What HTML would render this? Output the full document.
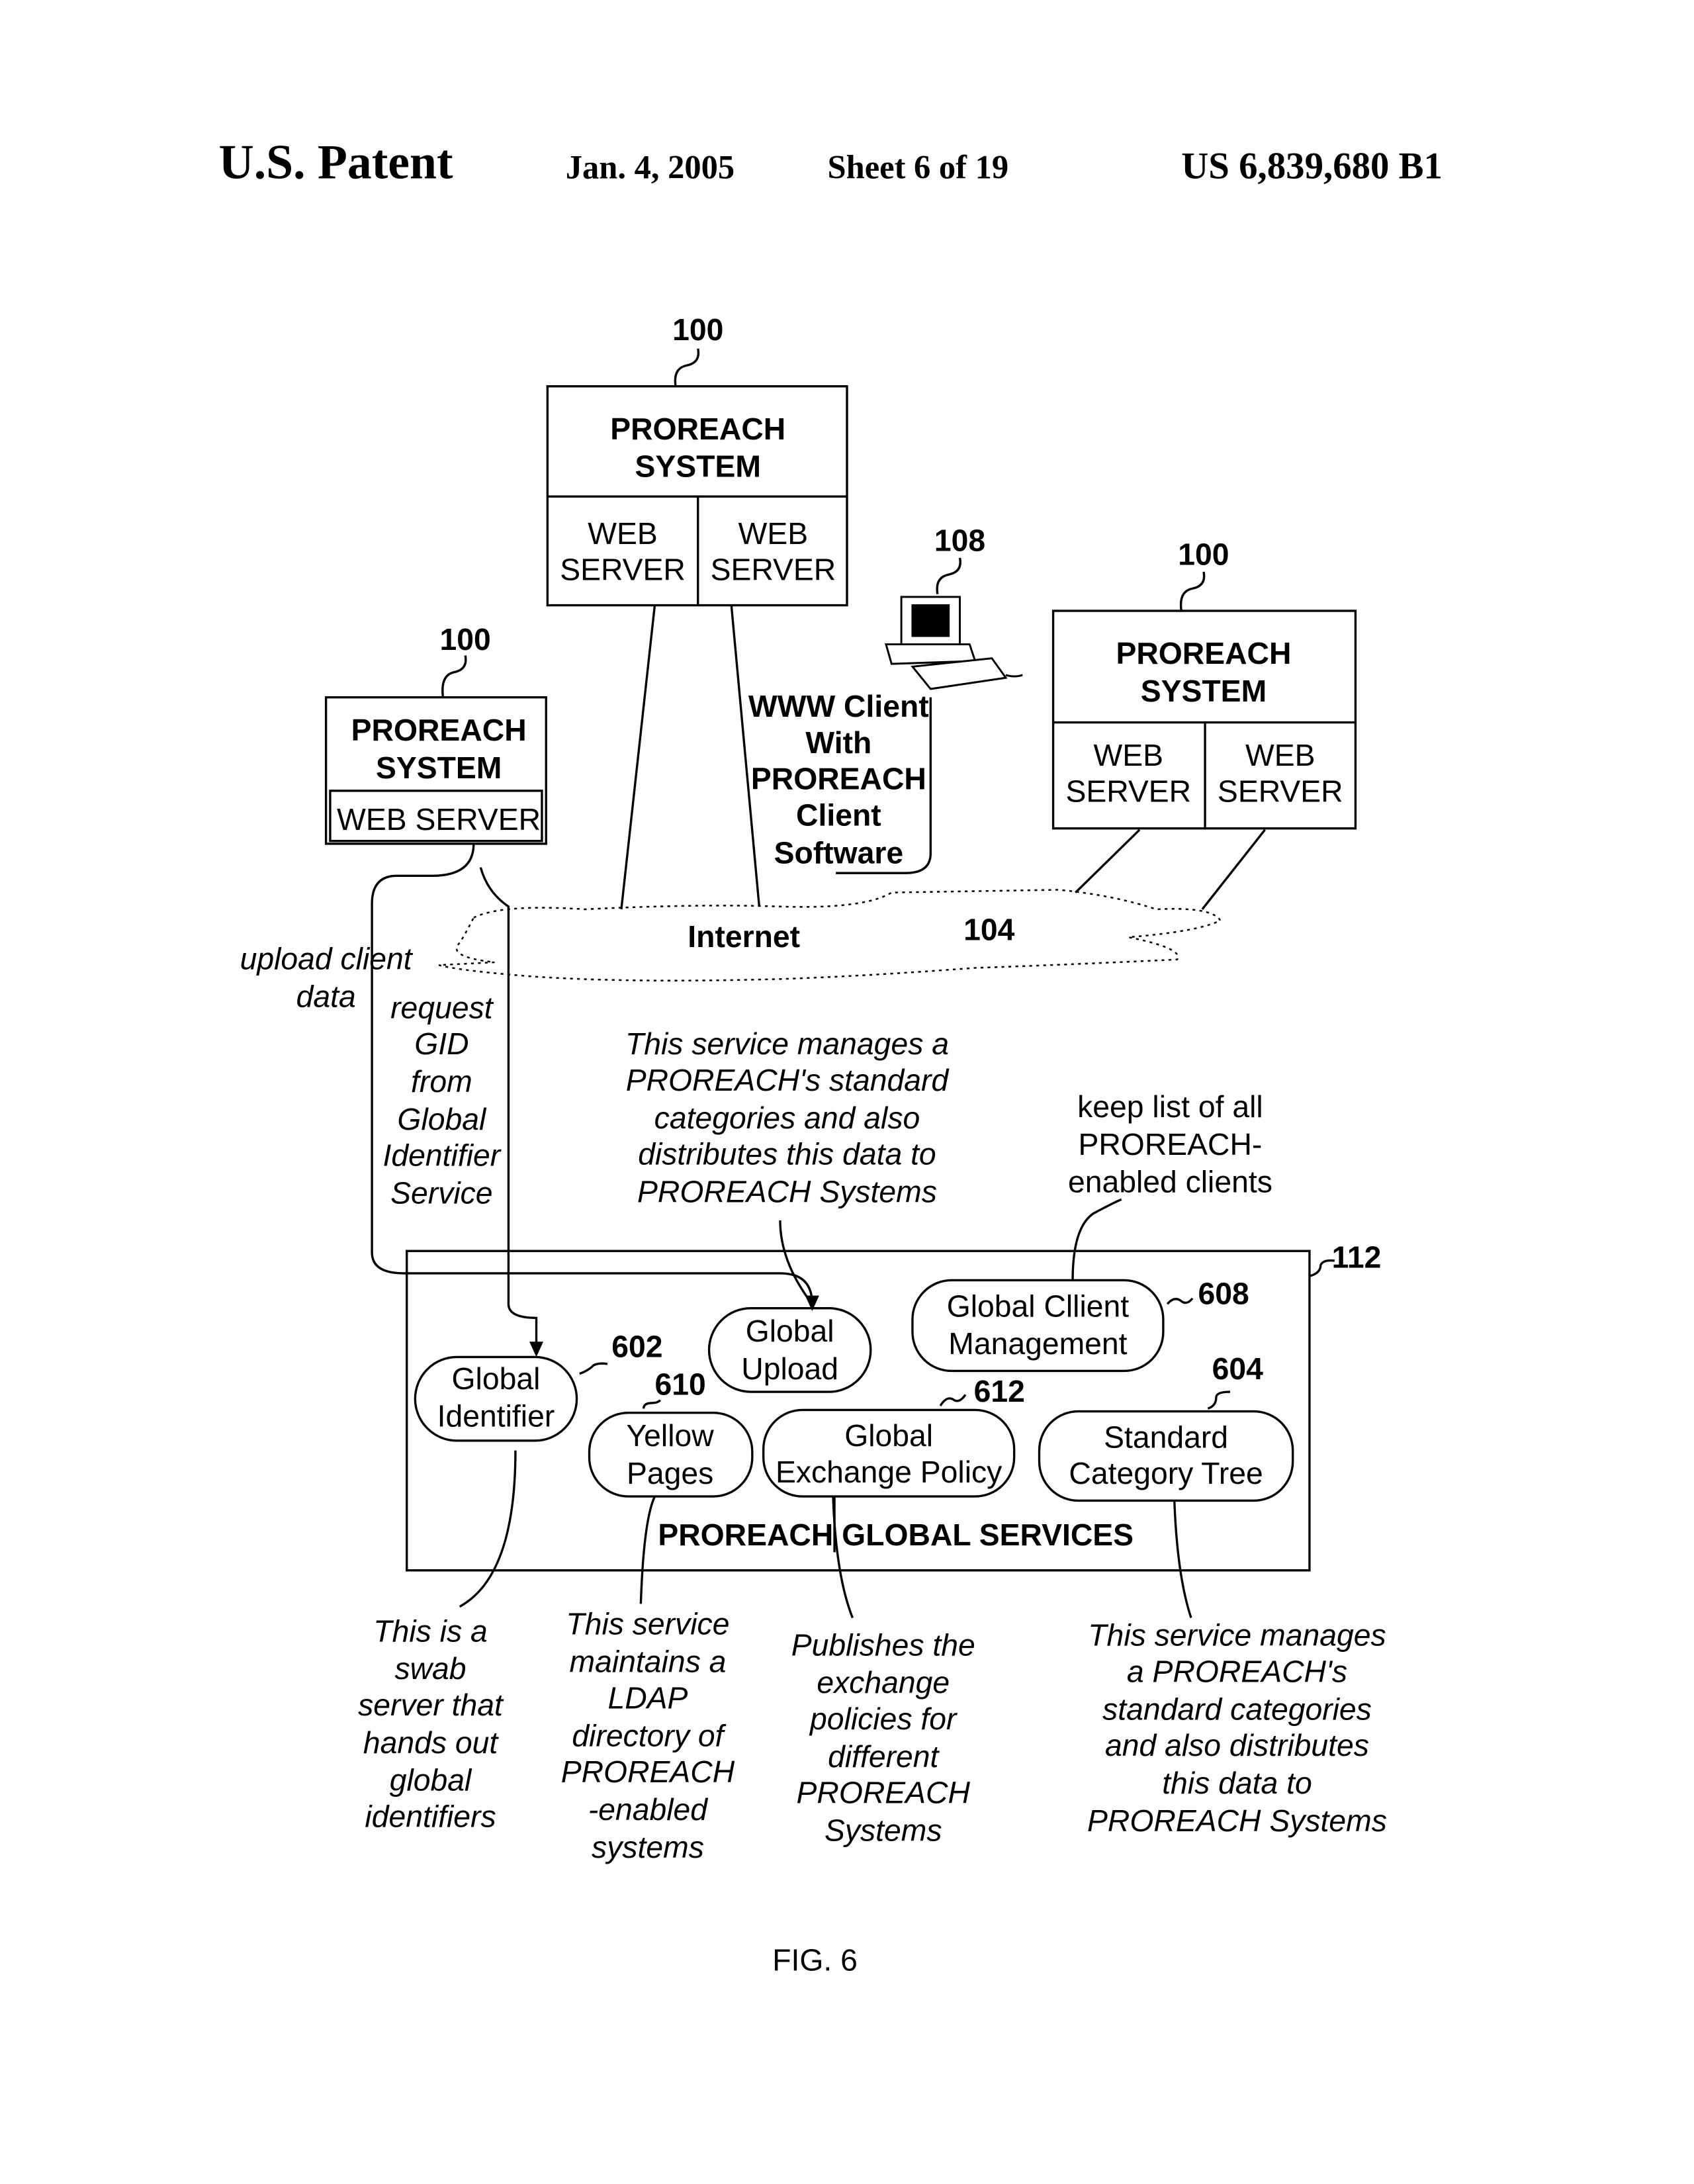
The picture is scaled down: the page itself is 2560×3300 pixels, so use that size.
<!DOCTYPE html>
<html><head><meta charset="utf-8"><style>
html,body{margin:0;padding:0;background:#fff}
svg{display:block}
text{font-family:"Liberation Sans",sans-serif;font-size:22px;fill:#000}
.b{font-weight:bold}
.i{font-style:italic}
.s{font-family:"Liberation Serif",serif;font-weight:bold}
</style></head><body>
<svg width="2560" height="3300" viewBox="0 0 1216 1566" preserveAspectRatio="none" xmlns="http://www.w3.org/2000/svg">
<g fill="none" stroke="#000" stroke-width="1.6">
<rect x="393" y="277" width="215" height="157"/>
<line x1="393" y1="356" x2="608" y2="356"/>
<line x1="501" y1="356" x2="501" y2="434"/>
<path d="M501 250 q2 10 -8 12 q-10 2 -8 15"/>
<rect x="234" y="500" width="158" height="105"/>
<rect x="237" y="567" width="152" height="36"/>
<path d="M334 470 q2 10 -8 12 q-10 2 -8 18"/>
<rect x="756" y="438" width="217" height="156"/>
<line x1="756" y1="518" x2="973" y2="518"/>
<line x1="865" y1="518" x2="865" y2="594"/>
<path d="M864 410 q2 10 -8 12 q-10 2 -8 16"/>
<path d="M689 400 q2 10 -8 12 q-10 2 -8 14"/>
<line x1="470" y1="434" x2="446" y2="652"/>
<line x1="525" y1="434" x2="545" y2="650"/>
<line x1="818" y1="595" x2="772" y2="640"/>
<line x1="908" y1="595" x2="863" y2="652"/>
<path d="M668 500 L668 612 Q668 626 650 626 L600 626"/>
<path d="M340 605 Q340 628 310 628 L285 628 Q267 628 267 648 L267 898 Q267 913 290 913 L560 913 Q583 913 583 935"/>
<path d="M345 622 Q350 640 365 650 L365 935 Q365 945 385 945 L385 968"/>
<rect x="292" y="897" width="648" height="229"/>
<path d="M940 915 q8 -2 8 -8 q2 -4 10 -3"/>
<rect x="298" y="973" width="116" height="60" rx="30"/>
<rect x="509" y="938" width="116" height="60" rx="30"/>
<rect x="655" y="918" width="180" height="65" rx="28"/>
<rect x="423" y="1013" width="117" height="60" rx="28"/>
<rect x="548" y="1011" width="180" height="62" rx="28"/>
<rect x="746" y="1012" width="182" height="64" rx="28"/>
<line x1="599" y1="1073" x2="599" y2="1113"/>
<path d="M416 985 q6 -2 10 -6 q4 -2 10 -1"/>
<path d="M838 935 q5 -6 10 -2 q4 3 8 -2"/>
<path d="M675 1008 q5 -8 10 -4 q4 2 8 -4"/>
<path d="M867 1010 q6 -2 6 -8 q0 -4 10 -4"/>
<path d="M462 1010 q0 -4 6 -4 q4 0 6 -2"/>
<path d="M560 875 Q560 905 583 935"/>
<path d="M770 918 Q770 880 785 870 Q800 862 805 860"/>
<path d="M370 1040 Q370 1130 330 1152"/>
<path d="M470 1073 Q462 1090 460 1150"/>
<path d="M598 1073 Q600 1130 612 1160"/>
<path d="M843 1076 Q845 1130 855 1160"/>
</g>
<polygon points="385,973 380,962 390,962" fill="#000"/>
<polygon points="583,940 578,929 588,929" fill="#000"/>
<g fill="none" stroke="#000" stroke-width="1.2" stroke-dasharray="2,3">
<path d="M340 658 Q360 648 420 652 Q500 648 560 650 Q620 652 640 640 L760 638 Q800 642 830 652 Q870 650 876 660 Q860 668 810 672 Q850 680 845 688 Q760 692 700 694 Q620 700 560 702 Q450 705 380 700 Q330 696 315 692 L355 690 Q320 686 330 676 Q335 668 340 658 Z"/>
</g>
<g stroke="#000" stroke-width="1.4">
<rect x="647" y="428" width="42" height="36" fill="#fff"/>
<rect x="655" y="434" width="26" height="22" fill="#000"/>
<polygon points="636,462 696,462 700,474 640,476" fill="#fff"/>
<polygon points="655,478 712,472 722,486 668,494" fill="#fff"/>
<path d="M722 484 q6 2 12 0" fill="none"/>
</g>
<text x="157" y="128" class="s" style="font-size:35px">U.S. Patent</text>
<text x="406" y="128" class="s" style="font-size:24px">Jan. 4, 2005</text>
<text x="594" y="128" class="s" style="font-size:24px">Sheet 6 of 19</text>
<text x="848" y="128" class="s" style="font-size:27px">US 6,839,680 B1</text>
<g text-anchor="middle">
<text x="501" y="244" class="b">100</text>
<text x="501" y="315" class="b">PROREACH</text>
<text x="501" y="342" class="b">SYSTEM</text>
<text x="447" y="390">WEB</text><text x="447" y="416">SERVER</text>
<text x="555" y="390">WEB</text><text x="555" y="416">SERVER</text>
<text x="689" y="395" class="b">108</text>
<text x="864" y="405" class="b">100</text>
<text x="864" y="476" class="b">PROREACH</text>
<text x="864" y="503" class="b">SYSTEM</text>
<text x="810" y="549">WEB</text><text x="810" y="575">SERVER</text>
<text x="919" y="549">WEB</text><text x="919" y="575">SERVER</text>
<text x="334" y="466" class="b">100</text>
<text x="315" y="531" class="b">PROREACH</text>
<text x="315" y="558" class="b">SYSTEM</text>
<text x="315" y="595">WEB SERVER</text>
<text x="602" y="514" class="b">WWW Client</text>
<text x="602" y="540" class="b">With</text>
<text x="602" y="566" class="b">PROREACH</text>
<text x="602" y="592" class="b">Client</text>
<text x="602" y="619" class="b">Software</text>
<text x="534" y="679" class="b">Internet</text>
<text x="710" y="674" class="b">104</text>
<text x="234" y="695" class="i">upload client</text>
<text x="234" y="722" class="i">data</text>
<text x="317" y="730" class="i">request</text>
<text x="317" y="756" class="i">GID</text>
<text x="317" y="783" class="i">from</text>
<text x="317" y="810" class="i">Global</text>
<text x="317" y="836" class="i">Identifier</text>
<text x="317" y="863" class="i">Service</text>
<text x="565" y="756" class="i">This service manages a</text>
<text x="565" y="782" class="i">PROREACH's standard</text>
<text x="565" y="809" class="i">categories and also</text>
<text x="565" y="835" class="i">distributes this data to</text>
<text x="565" y="862" class="i">PROREACH Systems</text>
<text x="840" y="801">keep list of all</text>
<text x="840" y="828">PROREACH-</text>
<text x="840" y="855">enabled clients</text>
<text x="356" y="996">Global</text><text x="356" y="1023">Identifier</text>
<text x="567" y="962">Global</text><text x="567" y="989">Upload</text>
<text x="745" y="944">Global Cllient</text><text x="745" y="971">Management</text>
<text x="481" y="1037">Yellow</text><text x="481" y="1064">Pages</text>
<text x="638" y="1037">Global</text><text x="638" y="1063">Exchange Policy</text>
<text x="837" y="1038">Standard</text><text x="837" y="1064">Category Tree</text>
<text x="643" y="1108" class="b">PROREACH GLOBAL SERVICES</text>
<text x="309" y="1177" class="i">This is a</text>
<text x="309" y="1204" class="i">swab</text>
<text x="309" y="1230" class="i">server that</text>
<text x="309" y="1257" class="i">hands out</text>
<text x="309" y="1284" class="i">global</text>
<text x="309" y="1310" class="i">identifiers</text>
<text x="465" y="1172" class="i">This service</text>
<text x="465" y="1199" class="i">maintains a</text>
<text x="465" y="1225" class="i">LDAP</text>
<text x="465" y="1252" class="i">directory of</text>
<text x="465" y="1278" class="i">PROREACH</text>
<text x="465" y="1305" class="i">-enabled</text>
<text x="465" y="1332" class="i">systems</text>
<text x="634" y="1187" class="i">Publishes the</text>
<text x="634" y="1214" class="i">exchange</text>
<text x="634" y="1240" class="i">policies for</text>
<text x="634" y="1267" class="i">different</text>
<text x="634" y="1293" class="i">PROREACH</text>
<text x="634" y="1320" class="i">Systems</text>
<text x="888" y="1180" class="i">This service manages</text>
<text x="888" y="1206" class="i">a PROREACH's</text>
<text x="888" y="1233" class="i">standard categories</text>
<text x="888" y="1259" class="i">and also distributes</text>
<text x="888" y="1286" class="i">this data to</text>
<text x="888" y="1313" class="i">PROREACH Systems</text>
<text x="585" y="1413">FIG. 6</text>
</g>
<text x="439" y="973" class="b">602</text>
<text x="470" y="1000" class="b">610</text>
<text x="699" y="1005" class="b">612</text>
<text x="860" y="935" class="b">608</text>
<text x="870" y="989" class="b">604</text>
<text x="956" y="909" class="b">112</text>
</svg>
</body></html>
